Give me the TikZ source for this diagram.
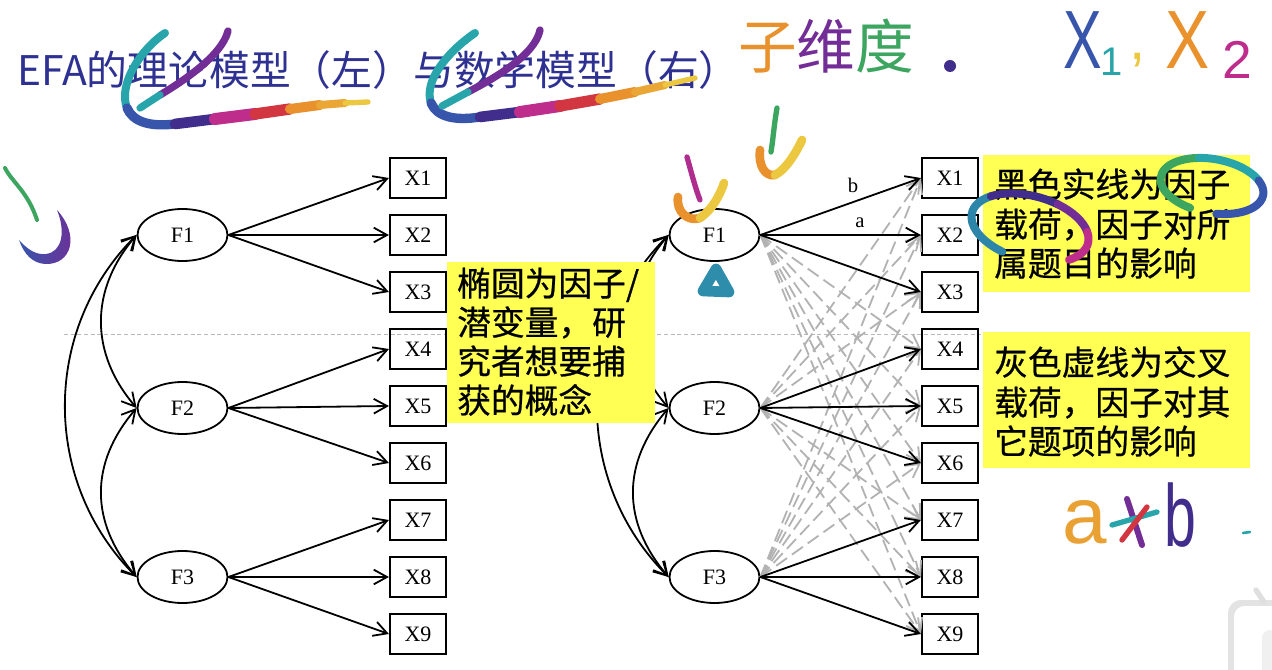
\documentclass[tikz,border=0pt]{standalone}
\usepackage{fontspec}
\setmainfont{Liberation Serif}
\newfontfamily\cjk{Noto Sans CJK SC}
\newfontfamily\cjknote[FakeBold=0.6]{Noto Sans CJK SC}
\newfontfamily\hand{Liberation Sans}
\usetikzlibrary{arrows.meta,shapes.geometric}

\definecolor{titleblue}{RGB}{46,49,146}
\definecolor{noteyellow}{RGB}{255,255,84}
\definecolor{crossgray}{RGB}{178,178,178}
\definecolor{inkteal}{RGB}{40,165,170}
\definecolor{inkgreen}{RGB}{60,165,95}
\definecolor{inkblue}{RGB}{55,85,170}
\definecolor{inkindigo}{RGB}{65,45,140}
\definecolor{inkpurple}{RGB}{115,45,150}
\definecolor{inkmagenta}{RGB}{190,45,140}
\definecolor{inkred}{RGB}{210,55,65}
\definecolor{inkorange}{RGB}{232,145,45}
\definecolor{inkyellow}{RGB}{236,200,65}

\tikzset{
  factor/.style={draw, line width=1.35pt, ellipse, minimum width=67.5pt,
    minimum height=39pt, inner sep=0pt, font=\fontsize{16.5}{16.5}\selectfont},
  item/.style={draw, line width=1.6pt, rectangle, minimum width=42pt,
    minimum height=30pt, inner sep=0pt, font=\fontsize{16.5}{16.5}\selectfont},
  barb/.style={-{Straight Barb[length=10pt,width=11pt]}},
  load/.style={line width=1.35pt, barb},
  cross/.style={line width=1.35pt, crossgray, dash pattern=on 10pt off 4.5pt,
    -{Straight Barb[length=10pt,width=11pt]}},
  cov/.style={line width=1.35pt,
    {Straight Barb[length=10pt,width=11pt]}-{Straight Barb[length=10pt,width=11pt]}},
  note/.style={fill=noteyellow, inner sep=0pt, anchor=north west},
  noteline/.style={anchor=base west, inner sep=0pt,
    font=\cjknote\fontsize{25.3}{25.3}\selectfont},
  coef/.style={inner sep=0pt, font=\fontsize{15.5}{15.5}\selectfont},
  ink/.style={line cap=round, line join=round},
  handtext/.style={inner sep=0pt, font=\hand},
}

\begin{document}
\begin{tikzpicture}[x=0.75pt, y=-0.75pt]
\useasboundingbox (0,0) rectangle (1272,670);
\fill[white] (0,0) rectangle (1272,670);

% separator
\draw[gray!55, line width=0.5pt, dash pattern=on 3pt off 2pt] (64,334) -- (983,334);

% title
\node[anchor=base west, inner sep=0pt, text=titleblue,
  font=\cjk\fontsize{30.6}{30.6}\selectfont] (title) at (17,86)
  {EFA的理论模型（左）与数学模型（右）};

% ---------- left: theoretical model ----------
\foreach \i/\y in {1/235, 2/408, 3/577}
  \node[factor] (F\i) at (182.5,\y) {F\i};
\foreach \i in {1,...,9}
  \node[item] (X\i) at (418,{178+57*(\i-1)}) {X\i};

\draw[load] (F1.east) -- (X1.west);
\draw[load] (F1.east) -- (X2.west);
\draw[load] (F1.east) -- (X3.west);
\draw[load] (F2.east) -- (X4.west);
\draw[load] (F2.east) -- (X5.west);
\draw[load] (F2.east) -- (X6.west);
\draw[load] (F3.east) -- (X7.west);
\draw[load] (F3.east) -- (X8.west);
\draw[load] (F3.east) -- (X9.west);

\draw[cov] (F1.west) .. controls +(-47,55) and +(-47,-55) .. (F2.west);
\draw[cov] (F2.west) .. controls +(-47,55) and +(-47,-55) .. (F3.west);
\draw[cov] (F1.west) .. controls +(-95,95) and +(-95,-95) .. (F3.west);

% ---------- right: mathematical model ----------
\foreach \i/\y in {1/235, 2/408, 3/577}
  \node[factor] (G\i) at (714.5,\y) {F\i};
\foreach \i in {1,...,9}
  \node[item] (Y\i) at (950,{178+57*(\i-1)}) {X\i};

% cross loadings
\foreach \j in {4,...,9} \draw[cross] (G1.east) -- (Y\j.west);
\foreach \j in {1,2,3,7,8,9} \draw[cross] (G2.east) -- (Y\j.west);
\foreach \j in {1,...,6} \draw[cross] (G3.east) -- (Y\j.west);

% main loadings
\draw[load] (G1.east) -- (Y1.west);
\draw[load] (G1.east) -- (Y2.west);
\draw[load] (G1.east) -- (Y3.west);
\draw[load] (G2.east) -- (Y4.west);
\draw[load] (G2.east) -- (Y5.west);
\draw[load] (G2.east) -- (Y6.west);
\draw[load] (G3.east) -- (Y7.west);
\draw[load] (G3.east) -- (Y8.west);
\draw[load] (G3.east) -- (Y9.west);

\node[coef] (lb) at (853,185) {b};
\node[coef] (la) at (860,223) {a};

\draw[cov] (G1.west) .. controls +(-47,55) and +(-47,-55) .. (G2.west);
\draw[cov] (G2.west) .. controls +(-47,55) and +(-47,-55) .. (G3.west);
\draw[cov] (G1.west) .. controls +(-95,95) and +(-95,-95) .. (G3.west);

% ---------- yellow notes ----------
\node[note, minimum width=156pt, minimum height=120.75pt] (noteA) at (447,262) {};
\node[noteline] (a1) at (457,296) {椭圆为因子/};
\node[noteline] (a2) at (457,335) {潜变量，研};
\node[noteline] (a3) at (457,374) {究者想要捕};
\node[noteline] (a4) at (457,413) {获的概念};

\node[note, minimum width=200.25pt, minimum height=102.75pt] (noteB) at (983,155) {};
\node[noteline] (b1) at (994,197) {黑色实线为因子};
\node[noteline] (b2) at (994,237) {载荷，因子对所};
\node[noteline] (b3) at (994,276) {属题目的影响};

\node[note, minimum width=200.25pt, minimum height=102pt] (noteC) at (983,332) {};
\node[noteline] (c1) at (994,375) {灰色虚线为交叉};
\node[noteline] (c2) at (994,415) {载荷，因子对其};
\node[noteline] (c3) at (994,454) {它题项的影响};

% ---------- ink annotations ----------
% loop under the first half of the title
\draw[ink, inkteal, line width=6pt] (165,33) .. controls (140,50) and (118,85) .. (127,108);
\draw[ink, inkblue, line width=7pt] (127,108) .. controls (133,122) and (150,127) .. (175,124);
\draw[ink, inkpurple, line width=5.5pt] (228,31) .. controls (222,55) and (185,80) .. (160,95);
\draw[ink, inkteal, line width=5.5pt] (160,95) -- (140,108);
\draw[ink, inkindigo, line width=8pt] (175,124) -- (215,119);
\draw[ink, inkmagenta, line width=9pt] (215,119) -- (255,114);
\draw[ink, inkred, line width=8.5pt] (255,114) -- (290,109);
\draw[ink, inkorange, line width=7.5pt] (290,109) -- (320,105);
\draw[ink, inkorange!60!inkyellow, line width=6pt] (320,105) -- (345,103);
\draw[ink, inkyellow, line width=4pt] (345,103) -- (368,102);

% loop under the second half of the title
\draw[ink, inkteal, line width=6pt] (475,33) .. controls (450,50) and (423,80) .. (431,103);
\draw[ink, inkblue, line width=7pt] (431,103) .. controls (437,117) and (455,121) .. (480,117);
\draw[ink, inkpurple, line width=5.5pt] (540,30) .. controls (535,55) and (495,78) .. (468,92);
\draw[ink, inkteal, line width=5.5pt] (468,92) -- (442,106);
\draw[ink, inkindigo, line width=8pt] (480,117) -- (520,112);
\draw[ink, inkmagenta, line width=9pt] (520,112) -- (560,106);
\draw[ink, inkred, line width=8.5pt] (560,106) -- (600,99);
\draw[ink, inkorange, line width=7.5pt] (600,99) -- (635,92);
\draw[ink, inkorange!60!inkyellow, line width=6pt] (635,92) -- (665,85);
\draw[ink, inkyellow, line width=4pt] (665,85) -- (695,78);

% handwritten words at the top right
\node[inner sep=0pt, font=\cjk\fontsize{44}{44}\selectfont] (hw1) at (826,46)
  {\textcolor{inkorange}{子}\textcolor{inkpurple}{维}\textcolor{inkgreen}{度}};
\fill[inkindigo] (950,66) circle (6);
\node[handtext, text=inkblue, font=\hand\fontsize{62}{62}\selectfont, xscale=0.7] (hx1) at (1083,40) {X};
\node[handtext, text=inkteal, font=\hand\fontsize{30}{30}\selectfont] (hs1) at (1112,62) {1};
\node[handtext, text=inkyellow, font=\hand\fontsize{44}{44}\selectfont] (hc) at (1138,60) {,};
\node[handtext, text=inkorange, font=\hand\fontsize{62}{62}\selectfont, xscale=0.8] (hx2) at (1188,40) {X};
\node[handtext, text=inkmagenta, font=\hand\fontsize{40}{40}\selectfont] (hs2) at (1237,60) {2};

% check marks
\draw[ink, inkgreen, line width=4pt] (777,108) .. controls (774,125) and (773,140) .. (771,152);
\draw[ink, inkorange, line width=6.5pt] (760,150) .. controls (758,165) and (765,177) .. (775,175);
\draw[ink, inkyellow, line width=6.5pt] (775,175) .. controls (785,170) and (795,155) .. (802,140);

\draw[ink, inkmagenta!80!inkpurple, line width=4pt] (687,157) .. controls (692,175) and (696,190) .. (700,200);
\draw[ink, inkorange, line width=6.5pt] (678,197) .. controls (676,212) and (688,222) .. (700,218);
\draw[ink, inkyellow, line width=6.5pt] (700,218) .. controls (712,210) and (720,195) .. (724,183);

% small triangle under F1
\draw[ink, inkteal!70!inkblue, line width=8pt] (716,269) -- (729,292) -- (703,291) -- cycle;

% marks at the left edge
\draw[ink, inkgreen, line width=3pt] (5,168) .. controls (12,182) and (28,192) .. (37,220);
\shade[left color=inkblue, right color=inkpurple]
  (57,210) .. controls (80,235) and (72,265) .. (45,264)
  .. controls (32,263) and (24,254) .. (19,240)
  .. controls (28,250) and (36,255) .. (46,254)
  .. controls (62,252) and (66,232) .. (57,210) -- cycle;

% ring around the first 因子
\begin{scope}[shift={(1212,186)}, rotate=-10]
  \draw[ink, inkgreen, line width=6pt] (110:52 and 27) arc[start angle=110, end angle=250, x radius=52, y radius=27];
  \draw[ink, inkteal, line width=6pt] (250:52 and 27) arc[start angle=250, end angle=330, x radius=52, y radius=27];
  \draw[ink, inkblue, line width=6pt] (330:52 and 27) arc[start angle=330, end angle=440, x radius=52, y radius=27];
\end{scope}

% ring around 载荷
\begin{scope}[shift={(1030,228)}, rotate=-15]
  \draw[ink, inkteal!60!inkblue, line width=6pt] (110:60 and 32) arc[start angle=110, end angle=220, x radius=60, y radius=32];
  \draw[ink, inkindigo, line width=6pt] (220:60 and 32) arc[start angle=220, end angle=290, x radius=60, y radius=32];
  \draw[ink, inkpurple, line width=6pt] (290:60 and 32) arc[start angle=290, end angle=340, x radius=60, y radius=32];
  \draw[ink, inkmagenta, line width=6pt] (340:60 and 32) arc[start angle=340, end angle=400, x radius=60, y radius=32];
\end{scope}

% handwritten a*b
\node[handtext, text=inkorange!70!inkyellow, font=\hand\fontsize{60}{60}\selectfont] (ha) at (1085,522) {a};
\draw[ink, inkpurple, line width=4.5pt] (1127,499) -- (1142,545);
\draw[ink, inkteal, line width=4pt] (1112,525) -- (1157,512);
\draw[ink, inkred, line width=4pt] (1147,507) -- (1122,540);
\node[handtext, text=inkindigo, font=\hand\fontsize{66}{66}\selectfont, xscale=0.65] (hb) at (1180,515) {b};
\draw[ink, inkteal, line width=2pt] (1243,533) -- (1250,532);

% corner icon
\fill[gray!22, rounded corners=10pt] (1228,600) rectangle (1295,700);
\fill[white, rounded corners=8pt] (1234,606) rectangle (1295,700);
\fill[gray!12, rounded corners=6pt] (1262,630) rectangle (1295,700);
\draw[gray!25, line width=4pt, line cap=round] (1256,590) -- (1264,602);
\end{tikzpicture}
\end{document}
